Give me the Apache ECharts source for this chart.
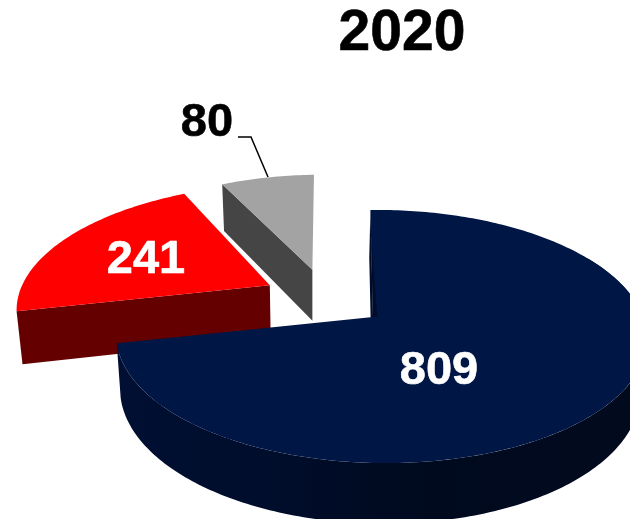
<!DOCTYPE html>
<html>
<head>
<meta charset="utf-8">
<style>html,body{margin:0;padding:0;background:#fff}#chart{width:630px;height:519px}</style>
<script src="https://cdn.jsdelivr.net/npm/echarts@6/dist/echarts.min.js"></script>
</head>
<body>
<div id="chart"></div>
<script>
// Three-slice exploded pie for 2020, listed counter-clockwise from twelve o'clock.
const chartTitle = '2020';
const sliceKeys = ['gray', 'red', 'navy'];
const sliceValues = [80, 241, 809];

// Slice appearance, in the same order as the values.
const topColors = ['#a3a3a3', '#ff0000', '#001644'];
const wallColors = ['#454545', '#650000', '#000d2c'];
const labelColors = ['#000000', '#ffffff', '#ffffff'];
const explodeX = [-0.236, -0.412, 0];
const explodeY = [-0.41, -0.27, 0];
const sliceSkew = [7.4, 3, 3];
const sliceScale = [1, 1.04, 1];

// Perspective of the disc plane.
const center = { x: 373, y: 317 };
const radiusX = 262, radiusY = 123.5, tilt = 0.154, sideTilt = 0.03;
const labelAnchors = [[207, 123], [146, 260], [439, 371]];
const leaderPath = [[238, 137], [251, 137], [268, 177]];
const rimFrom = 60, rimTo = 258;

const total = sliceValues.reduce((a, b) => a + b, 0);

function project(i, X, Y) {
  const w = 1 - tilt * Y - sideTilt * X;
  return [center.x + (radiusX * X + sliceSkew[i] * Y) / w, center.y + radiusY * Y / w];
}
function drop(p) {
  return [p[0] + (313 - p[0]) * 0.02, p[1] + 0.05 * p[1] + 37.5];
}
function onDisc(i, r, deg) {
  const a = deg * Math.PI / 180;
  const s = r * sliceScale[i];
  return project(i, explodeX[i] + s * Math.sin(a), explodeY[i] - s * Math.cos(a));
}
function arc(i, from, to) {
  const pts = [], n = Math.max(2, Math.ceil(to - from));
  for (let k = 0; k <= n; k++) pts.push(onDisc(i, 1, from + (to - from) * k / n));
  return pts;
}
function band(pts) {
  return pts.concat(pts.slice().reverse().map(drop));
}

function renderSlice(params, api) {
  const i = params.dataIndex;
  const value = api.value(0);
  let before = 0;
  for (let k = 0; k < i; k++) before += sliceValues[k];
  const end = 360 - before / total * 360;
  const start = end - value / total * 360;
  const children = [];

  // Cut face along the slice's starting edge.
  const apex = onDisc(i, 0, 0);
  children.push({
    type: 'polygon',
    shape: { points: band([onDisc(i, 1, start), apex]) },
    style: { fill: wallColors[i] }
  });

  // Rounded outer wall where the rim faces the viewer.
  const a = Math.max(start, rimFrom), b = Math.min(end, rimTo);
  if (b > a) {
    children.push({
      type: 'polygon',
      shape: { points: band(arc(i, a, b)) },
      style: {
        fill: new echarts.graphic.LinearGradient(116, 0, 630, 0, [
          { offset: 0, color: '#000f33' },
          { offset: 0.3, color: '#000d2b' },
          { offset: 0.62, color: '#000a1e' },
          { offset: 1, color: '#020a1e' }
        ], true)
      }
    });
  }

  // Top face.
  children.push({
    type: 'polygon',
    shape: { points: [apex].concat(arc(i, start, end)) },
    style: { fill: topColors[i] }
  });

  // Thin shaded sliver beside the closing edge of the largest slice.
  if (start === 0) {
    children.push({
      type: 'polygon',
      shape: { points: [onDisc(i, 0.016, 90), apex, onDisc(i, 0.76, 0)] },
      style: { fill: '#000c28' }
    });
  }

  // Value label.
  children.push({
    type: 'text',
    style: {
      text: String(value),
      x: labelAnchors[i][0], y: labelAnchors[i][1],
      fill: labelColors[i],
      stroke: labelColors[i],
      lineWidth: 0.6,
      font: 'bold 47px "Liberation Sans", Arial, sans-serif',
      align: 'center', verticalAlign: 'middle'
    }
  });

  // Leader line from the outside label to its slice.
  if (i === 0) {
    children.push({
      type: 'polyline',
      shape: { points: leaderPath },
      style: { stroke: '#000000', lineWidth: 1.5, fill: null }
    });
  }
  return { type: 'group', children };
}

const chart = echarts.init(document.getElementById('chart'), null, { renderer: 'canvas' });
chart.setOption({
  animation: false,
  backgroundColor: '#ffffff',
  title: {
    text: chartTitle,
    left: 397, top: 1, textAlign: 'center',
    textStyle: {
      color: '#000000', fontFamily: '"Liberation Sans", Arial, sans-serif', fontWeight: 'bold', fontSize: 57,
      textBorderColor: '#000000', textBorderWidth: 0.6
    }
  },
  series: [{
    type: 'custom',
    coordinateSystem: 'none',
    silent: true,
    clip: false,
    renderItem: renderSlice,
    data: sliceValues.map((v, i) => ({ name: sliceKeys[i], value: [v] }))
  }]
});
</script>
</body>
</html>
